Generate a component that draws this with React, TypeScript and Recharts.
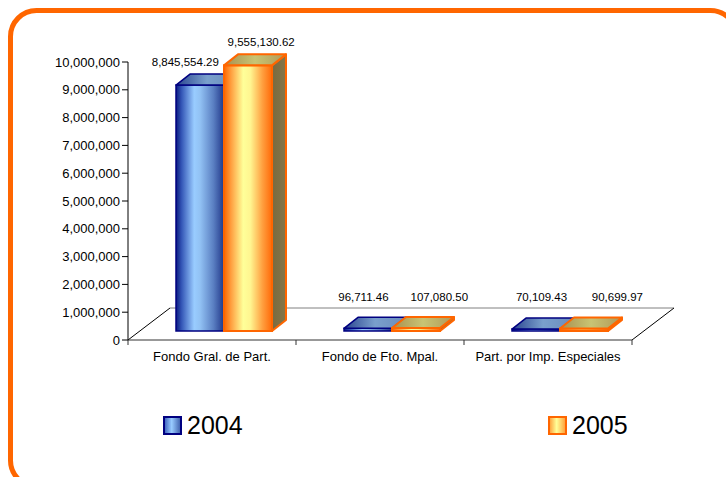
import React from "react";
import { BarChart, Bar, XAxis, YAxis, Customized } from "recharts";

const categories = ["Fondo Gral. de Part.", "Fondo de Fto. Mpal.", "Part. por Imp. Especiales"];
const values2004 = [8845554.29, 96711.46, 70109.43];
const values2005 = [9555130.62, 107080.5, 90699.97];
const seriesNames = ["2004", "2005"];
const yTicks = [0, 1000000, 2000000, 3000000, 4000000, 5000000, 6000000, 7000000, 8000000, 9000000, 10000000];

const data = categories.map((name, i) => ({
  name,
  y2004: values2004[i],
  y2005: values2005[i],
}));

const FONT = '"Liberation Sans", Arial, sans-serif';
const W = 726;
const H = 477;
const MARGIN = { top: 62, right: 94, bottom: 107, left: 48 };
const Y_AXIS_W = 80;
const X_AXIS_H = 30;
const PLOT = {
  left: MARGIN.left + Y_AXIS_W,
  right: W - MARGIN.right,
  bottom: H - MARGIN.bottom - X_AXIS_H,
};

// 3d look
const FLOOR_DX = 42;
const FLOOR_DY = -32;
const SHIFT_X = 12; // bars sit a bit back on the floor
const SHIFT_Y = -9;
const DEPTH_X = 14;
const DEPTH_Y = -11;
const LABEL_PERSP = 0.06; // labels drift right further along the axis

const fmtTick = (v: number) => v.toLocaleString("en-US");
const fmtVal = (v: number) =>
  v.toLocaleString("en-US", { minimumFractionDigits: 2, maximumFractionDigits: 2 });

const STYLES = {
  y2004: { front: "url(#g2004front)", top: "url(#g2004top)", side: "#2a3f8a", stroke: "#000080", sw: 1.5, labelDx: -19 },
  y2005: { front: "url(#g2005front)", top: "url(#g2005top)", side: "url(#g2005side)", stroke: "#FF6600", sw: 2, labelDx: 6 },
};

const makeShape = (key: "y2004" | "y2005") => (props: any) => {
  const { x, y, width, height, payload } = props;
  const s = STYLES[key];
  const fx = x + SHIFT_X;
  const fy = y + SHIFT_Y;
  const w = width;
  const h = Math.max(height, 0);
  const top = `${fx},${fy} ${fx + DEPTH_X},${fy + DEPTH_Y} ${fx + w + DEPTH_X},${fy + DEPTH_Y} ${fx + w},${fy}`;
  const side = `${fx + w},${fy} ${fx + w + DEPTH_X},${fy + DEPTH_Y} ${fx + w + DEPTH_X},${fy + h + DEPTH_Y} ${fx + w},${fy + h}`;
  const cx = fx + w / 2;
  const labelX = cx + s.labelDx + (cx - PLOT.left) * LABEL_PERSP;
  const labelY = Math.min(fy + DEPTH_Y - 12, 297);
  return (
    <g>
      <polygon points={side} fill={s.side} stroke={s.stroke} strokeWidth={s.sw} strokeLinejoin="round" />
      <rect x={fx} y={fy} width={w} height={h} fill={s.front} stroke={s.stroke} strokeWidth={s.sw} />
      <polygon points={top} fill={s.top} stroke={s.stroke} strokeWidth={s.sw} strokeLinejoin="round" />
      <text x={labelX} y={labelY} dy="0.35em" textAnchor="middle" fontSize={11.5} fontFamily={FONT} fill="#000">
        {fmtVal(payload[key])}
      </text>
    </g>
  );
};

function Floor() {
  const { left, right, bottom } = PLOT;
  const step = (right - left) / categories.length;
  const bounds = [0, 1, 2, 3].map((i) => left + i * step);
  return (
    <g>
      <line x1={left} y1={bottom} x2={left + FLOOR_DX} y2={bottom + FLOOR_DY} stroke="#000" />
      <line x1={left + FLOOR_DX} y1={bottom + FLOOR_DY} x2={right + FLOOR_DX} y2={bottom + FLOOR_DY} stroke="#808080" />
      <line x1={right} y1={bottom} x2={right + FLOOR_DX} y2={bottom + FLOOR_DY} stroke="#000" />
      {bounds.map((bx, i) => (
        <line key={i} x1={bx} y1={bottom} x2={bx} y2={bottom + 5} stroke="#333" />
      ))}
    </g>
  );
}

function Gradients() {
  return (
    <svg width={0} height={0} style={{ position: "absolute" }}>
      <defs>
        <linearGradient id="g2004front" x1="0" y1="0" x2="1" y2="0">
          <stop offset="0" stopColor="#0a1a80" />
          <stop offset="0.12" stopColor="#3558b8" />
          <stop offset="0.38" stopColor="#99ccff" />
          <stop offset="0.5" stopColor="#92c2f4" />
          <stop offset="0.78" stopColor="#5a7fc2" />
          <stop offset="1" stopColor="#22388a" />
        </linearGradient>
        <linearGradient id="g2004top" x1="0" y1="0" x2="1" y2="0">
          <stop offset="0" stopColor="#2a4490" />
          <stop offset="0.5" stopColor="#7aa0cc" />
          <stop offset="1" stopColor="#6a8cbc" />
        </linearGradient>
        <linearGradient id="g2005front" x1="0" y1="0" x2="1" y2="0">
          <stop offset="0" stopColor="#ff6600" />
          <stop offset="0.15" stopColor="#ffa040" />
          <stop offset="0.4" stopColor="#ffff99" />
          <stop offset="0.55" stopColor="#fff590" />
          <stop offset="0.8" stopColor="#ffa040" />
          <stop offset="1" stopColor="#ff6a08" />
        </linearGradient>
        <linearGradient id="g2005top" x1="0" y1="0" x2="1" y2="0">
          <stop offset="0" stopColor="#a89050" />
          <stop offset="0.5" stopColor="#c8c474" />
          <stop offset="1" stopColor="#b09858" />
        </linearGradient>
        <linearGradient id="g2005side" x1="0" y1="0" x2="1" y2="0">
          <stop offset="0" stopColor="#7a6a40" />
          <stop offset="1" stopColor="#857648" />
        </linearGradient>
        <linearGradient id="gLeg2004" x1="0" y1="0" x2="1" y2="0">
          <stop offset="0" stopColor="#3558b8" />
          <stop offset="0.45" stopColor="#99ccff" />
          <stop offset="1" stopColor="#3a5aa8" />
        </linearGradient>
        <linearGradient id="gLeg2005" x1="0" y1="0" x2="1" y2="0">
          <stop offset="0" stopColor="#ff9933" />
          <stop offset="0.45" stopColor="#ffff99" />
          <stop offset="1" stopColor="#ff9933" />
        </linearGradient>
      </defs>
    </svg>
  );
}

const legendItems = [
  { name: seriesNames[0], fill: "url(#gLeg2004)", stroke: "#000080", left: 163 },
  { name: seriesNames[1], fill: "url(#gLeg2005)", stroke: "#FF6600", left: 548 },
];

export default function App() {
  return (
    <div style={{ position: "absolute", left: 0, top: 0, width: W, height: H, background: "#fff", overflow: "hidden", fontFamily: FONT }}>
      <Gradients />
      <svg width={W} height={H} style={{ position: "absolute", left: 0, top: 0 }}>
        <rect x={10.5} y={10.5} width={726} height={476} rx={26} ry={26} fill="#fff" stroke="#FF6600" strokeWidth={5} />
      </svg>
      <div style={{ position: "absolute", left: 0, top: 0 }}>
        <BarChart width={W} height={H} data={data} margin={MARGIN} barSize={48} barGap={0}>
          <Customized component={<Floor />} />
          <XAxis
            dataKey="name"
            height={X_AXIS_H}
            tickLine={false}
            tickMargin={6}
            axisLine={{ stroke: "#333" }}
            tick={{ fontSize: 13, fill: "#000", fontFamily: FONT }}
            interval={0}
          />
          <YAxis
            width={Y_AXIS_W}
            domain={[0, 10000000]}
            ticks={yTicks}
            interval={0}
            tickFormatter={fmtTick}
            tickSize={6}
            axisLine={{ stroke: "#000" }}
            tickLine={{ stroke: "#000" }}
            tick={{ fontSize: 13, fill: "#000", fontFamily: FONT }}
          />
          <Bar dataKey="y2004" name={seriesNames[0]} isAnimationActive={false} shape={makeShape("y2004")} />
          <Bar dataKey="y2005" name={seriesNames[1]} isAnimationActive={false} shape={makeShape("y2005")} />
        </BarChart>
      </div>
      {legendItems.map((it) => (
        <div key={it.name} style={{ position: "absolute", left: it.left, top: 412, display: "flex", alignItems: "center", height: 26 }}>
          <svg width={19} height={19} style={{ marginRight: 5 }}>
            <rect x={1} y={1} width={17} height={17} fill={it.fill} stroke={it.stroke} strokeWidth={2} />
          </svg>
          <span style={{ fontSize: 25, color: "#000", lineHeight: "26px" }}>{it.name}</span>
        </div>
      ))}
    </div>
  );
}
